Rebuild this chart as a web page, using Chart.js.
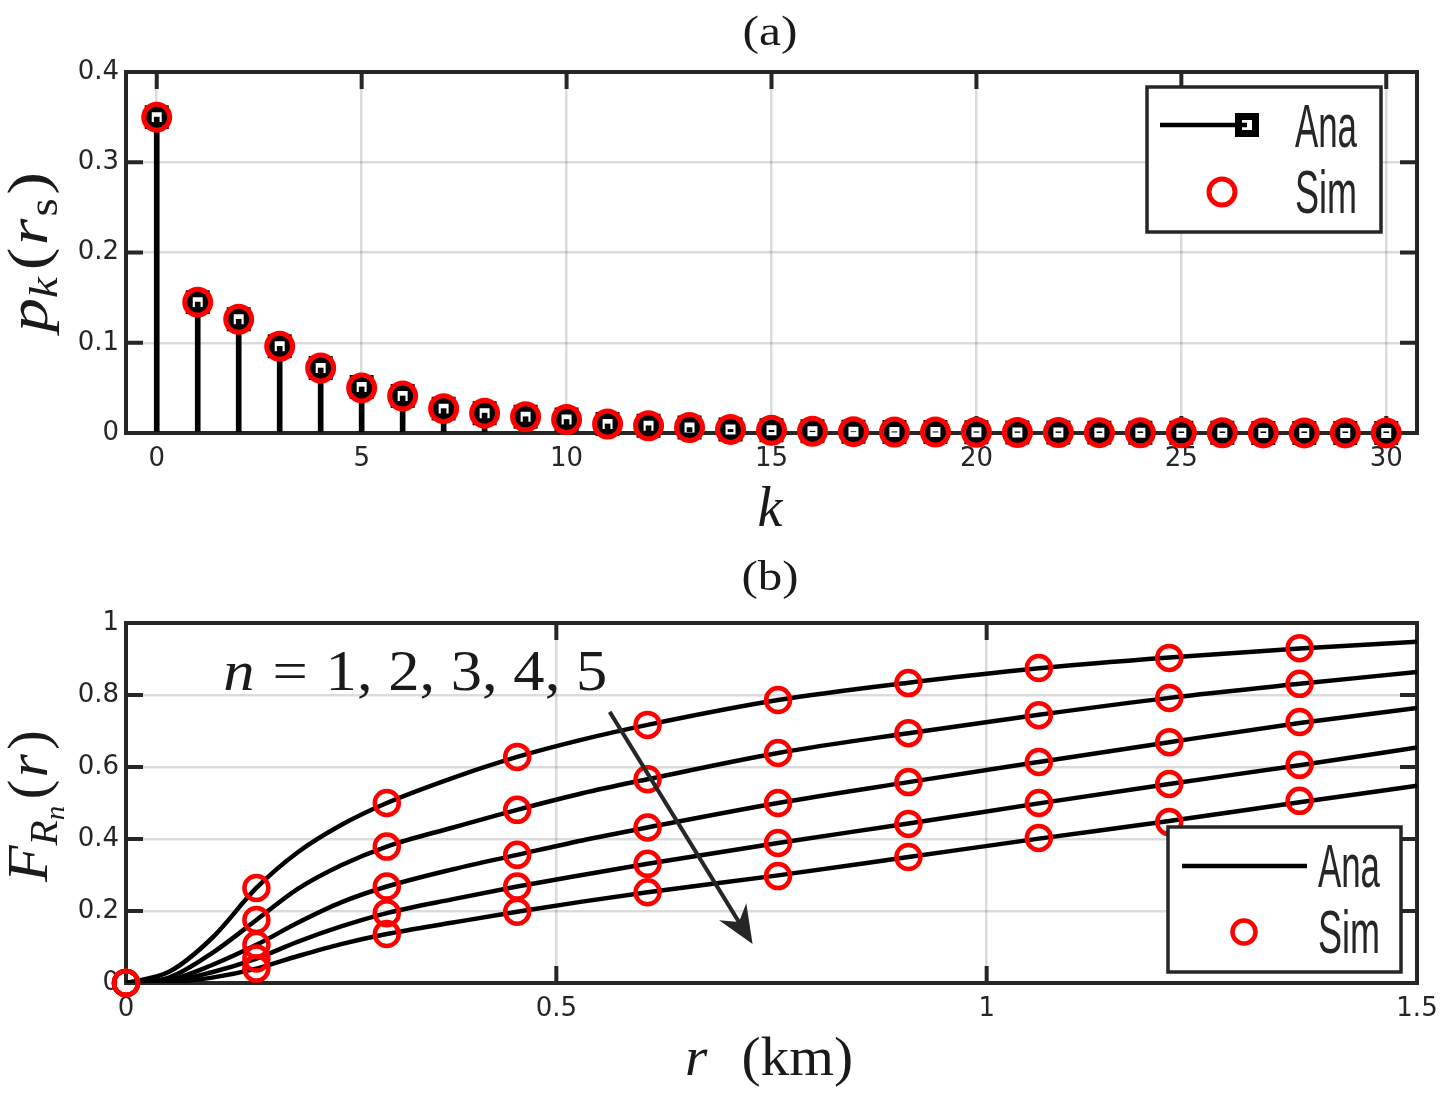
<!DOCTYPE html>
<html>
<head>
<meta charset="utf-8">
<script src="https://cdn.jsdelivr.net/npm/chart.js@4.4.1/dist/chart.umd.min.js"></script>
<style>
  body { margin: 0; background: #fff; }
  canvas { display: block; }
</style>
</head>
<body>
<canvas id="chartA" width="1442" height="550"></canvas>
<canvas id="chartB" width="1442" height="550"></canvas>
<script>
// (a) p_k(r_s) vs k
const kVals = [0,1,2,3,4,5,6,7,8,9,10,11,12,13,14,15,16,17,18,19,20,21,22,23,24,25,26,27,28,29,30];
const pkAna = [0.350,0.145,0.126,0.096,0.072,0.051,0.041,0.027,0.022,0.018,0.015,0.010,0.008,0.006,0.004,0.003,0.002,0.0015,0.001,0.001,0.0008,0.0006,0.0005,0.0004,0.0003,0.0002,0.0002,0.0001,0.0001,0.0001,0.0001];
const pkSim = [0.350,0.145,0.126,0.096,0.072,0.050,0.041,0.027,0.022,0.018,0.015,0.010,0.008,0.006,0.004,0.003,0.002,0.0015,0.001,0.001,0.0008,0.0006,0.0005,0.0004,0.0003,0.0002,0.0002,0.0001,0.0001,0.0001,0.0001];
const kTicks = [0,5,10,15,20,25,30];
const pTicks = [0,0.1,0.2,0.3,0.4];

// (b) F_Rn(r) vs r, n = 1..5
const rAna = [0,0.05,0.1,0.1515,0.2,0.25,0.303,0.38,0.4545,0.53,0.606,0.7576,0.9091,1.0606,1.2121,1.3636,1.5];
const fAna1 = [0,0.031,0.125,0.264,0.364,0.439,0.500,0.570,0.628,0.676,0.717,0.786,0.834,0.874,0.904,0.929,0.948];
const fAna2 = [0,0.015,0.083,0.175,0.262,0.327,0.379,0.432,0.481,0.527,0.566,0.639,0.694,0.745,0.792,0.831,0.864];
const fAna3 = [0,0.008,0.050,0.106,0.168,0.224,0.268,0.316,0.356,0.396,0.432,0.500,0.558,0.614,0.669,0.722,0.764];
const fAna4 = [0,0.004,0.030,0.068,0.115,0.157,0.194,0.233,0.268,0.300,0.331,0.389,0.443,0.499,0.553,0.605,0.654];
const fAna5 = [0,0.002,0.015,0.040,0.075,0.108,0.136,0.168,0.198,0.226,0.252,0.299,0.350,0.401,0.450,0.502,0.548];
const rSim = [0,0.1515,0.303,0.4545,0.606,0.7576,0.9091,1.0606,1.2121,1.3636];
const fSim1 = [0,0.264,0.500,0.628,0.717,0.786,0.833,0.875,0.903,0.930];
const fSim2 = [0,0.175,0.379,0.481,0.566,0.639,0.694,0.744,0.792,0.831];
const fSim3 = [0,0.106,0.268,0.356,0.432,0.500,0.558,0.614,0.669,0.725];
const fSim4 = [0,0.068,0.194,0.268,0.331,0.389,0.442,0.500,0.553,0.606];
const fSim5 = [0,0.040,0.136,0.198,0.252,0.297,0.350,0.403,0.447,0.506];
const rTicks = [0,0.5,1,1.5];
const fTicks = [0,0.2,0.4,0.6,0.8,1];

const INK = '#262626';
const SERIF = '"Liberation Serif", "Times New Roman", serif';
const RED = '#ff0000';

// draws a run of text pieces (for subscripts etc.)
function drawParts(ctx, parts, x, y, opt = {}) {
  ctx.save();
  let w = 0;
  parts.forEach(p => { ctx.font = p.f; p.w = ctx.measureText(p.t).width + (p.gap || 0); w += p.w; });
  ctx.translate(x, y);
  if (opt.rot) ctx.rotate(opt.rot);
  if (opt.width) ctx.scale(opt.width / w, 1);
  let cx = opt.align === 'left' ? 0 : -w / 2;
  ctx.fillStyle = opt.color || '#1a1a1a';
  ctx.textBaseline = 'alphabetic';
  ctx.textAlign = 'left';
  parts.forEach(p => { ctx.font = p.f; ctx.fillText(p.t, cx, p.dy || 0); cx += p.w; });
  ctx.restore();
}

function pts(xs, ys) { return xs.map((x, i) => ({ x: x, y: ys[i] })); }

function axis(min, max, ticks, isX) {
  return {
    type: 'linear', min: min, max: max, offset: false,
    grid: { color: 'rgba(0,0,0,0.14)', lineWidth: 2.5, drawTicks: false, offset: false },
    border: { display: false },
    ticks: {
      color: INK, font: { family: 'DejaVu Sans', size: 26 },
      padding: isX ? 11 : 7, autoSkip: false, maxRotation: 0,
      callback: v => String(v)
    },
    afterBuildTicks: s => { s.ticks = ticks.map(v => ({ value: v })); },
    afterFit: s => {
      if (isX) { s.height = 117; s.paddingLeft = 0; s.paddingRight = 0; }
      else { s.width = 126; s.paddingTop = 0; s.paddingBottom = 0; }
    }
  };
}

// box + inward ticks, like the matlab axes
const frame = {
  id: 'frame',
  beforeDatasetsDraw(chart) {
    const { ctx, chartArea: a, scales } = chart;
    ctx.save();
    ctx.strokeStyle = INK;
    ctx.lineWidth = 4;
    ctx.beginPath();
    scales.x.ticks.forEach(t => {
      const px = scales.x.getPixelForValue(t.value);
      ctx.moveTo(px, a.bottom); ctx.lineTo(px, a.bottom - 17);
      ctx.moveTo(px, a.top); ctx.lineTo(px, a.top + 17);
    });
    scales.y.ticks.forEach(t => {
      const py = scales.y.getPixelForValue(t.value);
      ctx.moveTo(a.left, py); ctx.lineTo(a.left + 17, py);
      ctx.moveTo(a.right, py); ctx.lineTo(a.right - 17, py);
    });
    ctx.stroke();
    ctx.strokeRect(a.left, a.top, a.right - a.left, a.bottom - a.top);
    ctx.restore();
  }
};

function legendBox(ctx, x, y, w, h) {
  ctx.fillStyle = '#fff';
  ctx.fillRect(x, y, w, h);
  ctx.strokeStyle = INK;
  ctx.lineWidth = 3.5;
  ctx.strokeRect(x, y, w, h);
}
function legendText(ctx, t, x, y) {
  drawParts(ctx, [{ t: t, f: '62px "Liberation Sans", sans-serif' }], x, y, { align: 'left', width: 62, color: INK });
}
function ring(ctx, x, y, r, lw) {
  ctx.beginPath();
  ctx.arc(x, y, r, 0, Math.PI * 2);
  ctx.strokeStyle = RED;
  ctx.lineWidth = lw;
  ctx.stroke();
}

const decorA = {
  id: 'decorA',
  afterDraw(chart) {
    const ctx = chart.ctx;
    ctx.save();
    drawParts(ctx, [{ t: '(a)', f: '42px ' + SERIF }], 770, 45, { width: 55 });
    drawParts(ctx, [{ t: 'k', f: 'italic 56px ' + SERIF }], 770, 526);
    drawParts(ctx, [
      { t: 'p', f: 'italic 58px ' + SERIF },
      { t: 'k', f: 'italic 40px ' + SERIF, dy: 10, gap: 6 },
      { t: '(', f: '58px ' + SERIF, gap: 2 },
      { t: 'r', f: 'italic 58px ' + SERIF, gap: 2 },
      { t: 's', f: '40px ' + SERIF, dy: 10, gap: 3 },
      { t: ')', f: '58px ' + SERIF }
    ], 47, 252, { rot: -Math.PI / 2, width: 160 });

    legendBox(ctx, 1147, 87, 234, 145);
    ctx.strokeStyle = '#000';
    ctx.lineWidth = 7;
    ctx.fillStyle = '#fff';
    ctx.fillRect(1238.5, 116.5, 17, 17);
    ctx.strokeRect(1238.5, 116.5, 17, 17);
    ctx.lineWidth = 4.5;
    ctx.beginPath(); ctx.moveTo(1160, 125); ctx.lineTo(1247, 125); ctx.stroke();
    ring(ctx, 1222, 192, 13, 5);
    legendText(ctx, 'Ana', 1295, 147);
    legendText(ctx, 'Sim', 1295, 213);
    ctx.restore();
  }
};

// arrow and label for panel (b), given in data units
const arrowFrom = { x: 0.562, y: 0.753 };
const arrowTo = { x: 0.728, y: 0.108 };
const nLabelAt = { x: 0.113, y: 0.814 };

const decorB = {
  id: 'decorB',
  afterDatasetsDraw(chart) {
    const { ctx, scales: { x, y } } = chart;
    const x0 = x.getPixelForValue(arrowFrom.x), y0 = y.getPixelForValue(arrowFrom.y);
    const x1 = x.getPixelForValue(arrowTo.x), y1 = y.getPixelForValue(arrowTo.y);
    const ang = Math.atan2(y1 - y0, x1 - x0);
    ctx.save();
    ctx.strokeStyle = INK;
    ctx.fillStyle = INK;
    ctx.lineWidth = 4;
    ctx.beginPath();
    ctx.moveTo(x0, y0);
    ctx.lineTo(x1 - 20 * Math.cos(ang), y1 - 20 * Math.sin(ang));
    ctx.stroke();
    ctx.translate(x1, y1);
    ctx.rotate(ang);
    ctx.beginPath();
    ctx.moveTo(0, 0);
    ctx.lineTo(-38, -16);
    ctx.lineTo(-26, 0);
    ctx.lineTo(-38, 16);
    ctx.closePath();
    ctx.fill();
    ctx.restore();

    drawParts(ctx, [
      { t: 'n', f: 'italic 56px ' + SERIF, gap: 16 },
      { t: '=', f: '56px ' + SERIF, gap: 16 },
      { t: '1, 2, 3, 4, 5', f: '56px ' + SERIF }
    ], x.getPixelForValue(nLabelAt.x), y.getPixelForValue(nLabelAt.y), { align: 'left', width: 384 });
  },
  afterDraw(chart) {
    const ctx = chart.ctx;
    ctx.save();
    drawParts(ctx, [{ t: '(b)', f: '42px ' + SERIF }], 770, 40, { width: 57 });
    drawParts(ctx, [
      { t: 'r', f: 'italic 54px ' + SERIF, gap: 32 },
      { t: '(km)', f: '54px ' + SERIF }
    ], 769, 525, { width: 168 });
    drawParts(ctx, [
      { t: 'F', f: 'italic 58px ' + SERIF },
      { t: 'R', f: 'italic 40px ' + SERIF, dy: 10 },
      { t: 'n', f: 'italic 28px ' + SERIF, dy: 17, gap: 6 },
      { t: '(', f: '58px ' + SERIF, gap: 2 },
      { t: 'r', f: 'italic 58px ' + SERIF, gap: 4 },
      { t: ')', f: '58px ' + SERIF }
    ], 47, 256, { rot: -Math.PI / 2, width: 152 });

    legendBox(ctx, 1168, 277, 233, 145);
    ctx.strokeStyle = '#000';
    ctx.lineWidth = 4.5;
    ctx.beginPath(); ctx.moveTo(1182, 316); ctx.lineTo(1307, 316); ctx.stroke();
    ring(ctx, 1244, 382, 11.5, 4.5);
    legendText(ctx, 'Ana', 1318, 337);
    legendText(ctx, 'Sim', 1318, 403);
    ctx.restore();
  }
};

const common = {
  responsive: false,
  animation: false,
  events: [],
  plugins: { legend: { display: false }, tooltip: { enabled: false } }
};

new Chart(document.getElementById('chartA'), {
  type: 'bar',
  data: {
    datasets: [
      { type: 'bar', data: pts(kVals, pkAna), backgroundColor: '#000', barThickness: 5, borderWidth: 0, order: 1 },
      { type: 'scatter', data: pts(kVals, pkAna), pointStyle: 'rect', pointRadius: 12, pointBorderWidth: 7,
        pointBackgroundColor: '#fff', pointBorderColor: '#000', order: 2, clip: false },
      { type: 'scatter', data: pts(kVals, pkSim), pointStyle: 'circle', pointRadius: 13, pointBorderWidth: 5,
        pointBackgroundColor: 'rgba(0,0,0,0)', pointBorderColor: RED, order: 0, clip: false }
    ]
  },
  options: Object.assign({}, common, {
    layout: { padding: { left: 0, right: 25, top: 72, bottom: 0 } },
    scales: { x: axis(-0.75, 30.75, kTicks, true), y: axis(0, 0.4, pTicks, false) }
  }),
  plugins: [frame, decorA]
});

const curves = [fAna1, fAna2, fAna3, fAna4, fAna5].map(f => ({
  data: pts(rAna, f), borderColor: '#000', borderWidth: 4.5, pointRadius: 0,
  cubicInterpolationMode: 'monotone', fill: false, order: 1
}));
const sims = [fSim1, fSim2, fSim3, fSim4, fSim5].map(f => ({
  data: pts(rSim, f), showLine: false, pointStyle: 'circle', pointRadius: 12, pointBorderWidth: 4.5,
  pointBackgroundColor: 'rgba(0,0,0,0)', pointBorderColor: RED, order: 0, clip: false
}));

new Chart(document.getElementById('chartB'), {
  type: 'line',
  data: { datasets: curves.concat(sims) },
  options: Object.assign({}, common, {
    layout: { padding: { left: 0, right: 25, top: 73, bottom: 0 } },
    scales: { x: axis(0, 1.5, rTicks, true), y: axis(0, 1, fTicks, false) }
  }),
  plugins: [frame, decorB]
});
</script>
</body>
</html>
